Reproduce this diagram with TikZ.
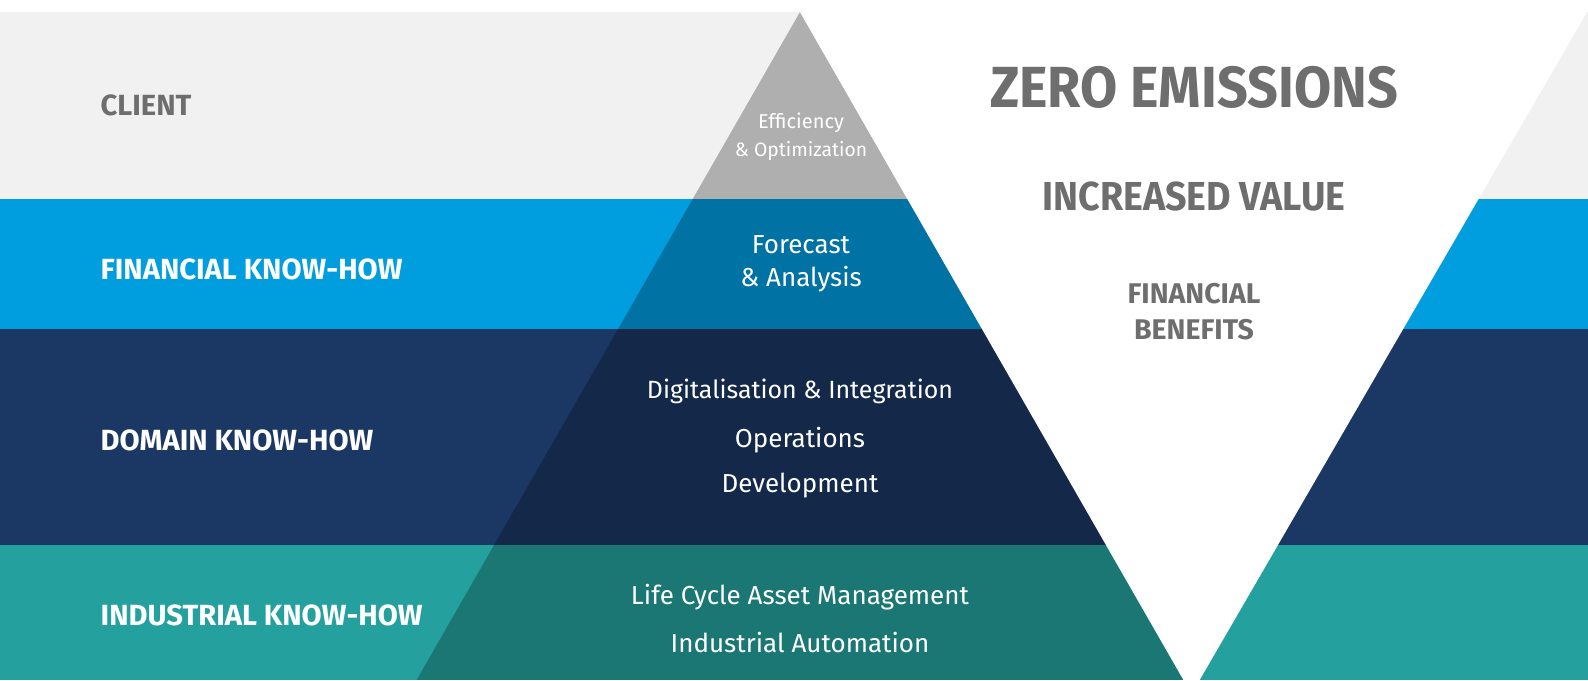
\documentclass[tikz,border=0pt]{standalone}
\usepackage{fontspec}
\setmainfont{Fira Sans}
\newfontfamily\narrowsans[FakeStretch=0.93]{Fira Sans}
\definecolor{clientgray}{HTML}{F1F1F1}
\definecolor{tipgray}{HTML}{AFAFAF}
\definecolor{finblue}{HTML}{009DDF}
\definecolor{findark}{HTML}{0072A3}
\definecolor{domblue}{HTML}{1B3764}
\definecolor{domdark}{HTML}{142949}
\definecolor{indteal}{HTML}{24A19F}
\definecolor{inddark}{HTML}{1B7773}
\definecolor{textgray}{HTML}{6E6E6E}
\tikzset{
  bandlabel/.style={anchor=west,inner sep=0pt,font=\bfseries\fontsize{8.3}{10}\selectfont},
  pyrtext/.style={text=white,inner sep=0pt,font=\fontsize{7.4}{9}\selectfont},
  gaintext/.style={text=textgray,inner sep=0pt,align=center,font=\bfseries}
}
\begin{document}
\begin{tikzpicture}
%\draw[step=1,thin,red](0,0) grid (15.88,6.8);
\useasboundingbox (0,0) rectangle (15.88,6.8);
\fill[clientgray] (0,4.81) rectangle (15.88,6.68);
\fill[finblue] (0,3.51) rectangle (15.88,4.81);
\fill[domblue] (0,1.35) rectangle (15.88,3.51);
\fill[indteal] (0,0) rectangle (15.88,1.35);
\coordinate (apex) at (8,6.68);
\coordinate (baseL) at (4.166,0);
\coordinate (baseR) at (11.834,0);
\coordinate (vtop) at (15.87,6.68);
\coordinate (vtip) at (11.915,-0.14);
\begin{scope}
\clip (apex) -- (baseL) -- (baseR) -- cycle;
\fill[tipgray] (0,4.81) rectangle (15.88,6.68);
\fill[findark] (0,3.51) rectangle (15.88,4.81);
\fill[domdark] (0,1.35) rectangle (15.88,3.51);
\fill[inddark] (0,0) rectangle (15.88,1.35);
\end{scope}
\fill[white] (apex) -- (vtop) -- (vtip) -- cycle;
% left titles
\node[bandlabel,text=textgray] (client) at (1.0,5.75) {CLIENT};
\node[bandlabel,text=white] (finance) at (1.0,4.11) {FINANCIAL KNOW-HOW};
\node[bandlabel,text=white] (domain) at (1.0,2.40) {DOMAIN KNOW-HOW};
\node[bandlabel,text=white] (industry) at (1.0,0.65) {INDUSTRIAL KNOW-HOW};
% pyramid
\node[pyrtext,font=\fontsize{5.7}{7}\selectfont] (eff) at (8.01,5.57) {Efficiency};
\node[pyrtext,font=\fontsize{5.5}{7}\selectfont] (opt) at (8.01,5.29) {\& Optimization};
\node[pyrtext] (fore) at (8.01,4.35) {Forecast};
\node[pyrtext] (anal) at (8.01,4.01) {\& Analysis};
\node[pyrtext,font=\fontsize{7.1}{9}\selectfont] (digi) at (8.00,2.89) {Digitalisation \& Integration};
\node[pyrtext] (oper) at (8.00,2.40) {Operations};
\node[pyrtext] (devel) at (8.00,1.94) {Development};
\node[pyrtext] (lcam) at (8.00,0.83) {Life Cycle Asset Management};
\node[pyrtext] (auto) at (8.00,0.38) {Industrial Automation};
% inverted triangle
\node[gaintext,font=\narrowsans\bfseries\fontsize{16.5}{18}\selectfont] (zero) at (11.94,5.93) {ZERO EMISSIONS};
\node[gaintext,font=\narrowsans\bfseries\fontsize{11.5}{13}\selectfont] (value) at (11.94,4.84) {INCREASED VALUE};
\node[gaintext,font=\bfseries\fontsize{8.1}{10.2}\selectfont] (benefit) at (11.94,3.68) {FINANCIAL\\BENEFITS};
\end{tikzpicture}
\end{document}
